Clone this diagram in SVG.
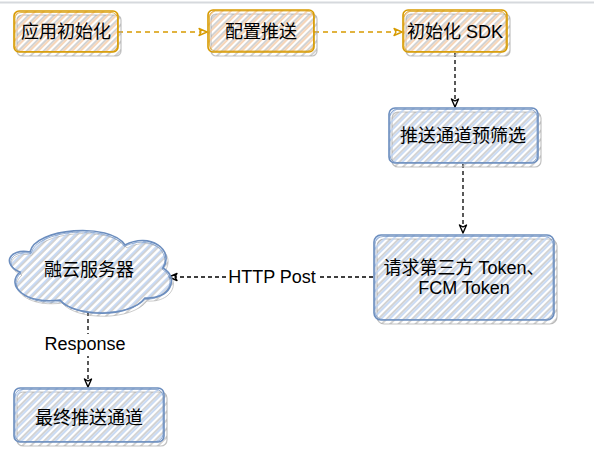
<svg xmlns="http://www.w3.org/2000/svg" width="594" height="462" viewBox="0 0 594 462">
<style>
  .txt{font-family:"Liberation Sans","Noto Sans CJK SC",sans-serif;font-size:18px;fill:#000;text-anchor:middle;}
  .shadow{fill:url(#grayHatch);stroke:#9a9a9a;stroke-width:1.2;stroke-opacity:0.6;}
  .ofill{fill:url(#orangeHatch);stroke:#d79b00;stroke-width:1.6;}
  .bfill{fill:url(#blueHatch);stroke:#6c8ebf;stroke-width:1.6;}
  .osk{fill:none;stroke:#d79b00;stroke-width:1;stroke-opacity:0.7;}
  .bsk{fill:none;stroke:#6c8ebf;stroke-width:1;stroke-opacity:0.7;}
  .edge{fill:none;stroke:#000;stroke-width:1.3;stroke-dasharray:4 3;}
  .oedge{fill:none;stroke:#d79b00;stroke-width:1.3;stroke-dasharray:5 4;}
  .lblbg{fill:#fff;}
</style>
<defs>
  <pattern id="orangeHatch" patternUnits="userSpaceOnUse" width="6" height="6" patternTransform="rotate(-45)">
    <line x1="0" y1="3" x2="6" y2="3" stroke="#f5c8a2" stroke-width="1.5"/>
  </pattern>
  <pattern id="blueHatch" patternUnits="userSpaceOnUse" width="6" height="6" patternTransform="rotate(-45)">
    <line x1="0" y1="3" x2="6" y2="3" stroke="#bcd2f1" stroke-width="1.6"/>
  </pattern>
  <pattern id="grayHatch" patternUnits="userSpaceOnUse" width="6" height="6" patternTransform="rotate(-45)">
    <line x1="0" y1="1" x2="6" y2="1" stroke="#b5b5b5" stroke-width="1.2"/>
  </pattern>
  <marker id="arrO" viewBox="0 0 10 10" refX="9" refY="5" markerUnits="userSpaceOnUse" markerWidth="10" markerHeight="10" orient="auto">
    <path d="M1,1.5 L9,5 L1,8.5 L3,5 Z" fill="#fff" stroke="#d79b00" stroke-width="1.4" stroke-linejoin="round"/>
  </marker>
  <marker id="arrK" viewBox="0 0 10 10" refX="9" refY="5" markerUnits="userSpaceOnUse" markerWidth="10" markerHeight="10" orient="auto">
    <path d="M1,1.5 L9,5 L1,8.5 L3,5 Z" fill="#fff" stroke="#000" stroke-width="1.4" stroke-linejoin="round"/>
  </marker>
</defs>

<rect width="594" height="462" fill="#fff"/>
<line x1="0" y1="2.5" x2="594" y2="2.5" stroke="#d6d9dd" stroke-width="2"/>

<g id="connectors">
  <path class="oedge" d="M118,32 L207,32" marker-end="url(#arrO)"/>
  <path class="oedge" d="M314,32 L402,32" stroke-width="2.2" marker-end="url(#arrO)"/>
  <path class="edge" d="M455,53 L455,107" marker-end="url(#arrK)"/>
  <path class="edge" d="M463,164 L463,233" marker-end="url(#arrK)"/>
  <path class="edge" d="M373,277 L169,277" marker-end="url(#arrK)"/>
  <rect class="lblbg" x="226" y="266" width="92" height="22"/>
  <text class="txt" x="272" y="283">HTTP Post</text>
  <path class="edge" d="M88,312 L88,387" marker-end="url(#arrK)"/>
  <rect class="lblbg" x="44" y="334" width="84" height="22"/>
  <text class="txt" x="85" y="350">Response</text>
</g>

<g id="node-app-init">
  <rect class="shadow" x="17" y="15" width="104" height="41" rx="5"/>
  <rect class="ofill" x="14" y="11" width="104" height="41" rx="5"/>
  <rect class="osk" x="15" y="12.5" width="102.5" height="39" rx="6"/>
  <text class="txt" x="66" y="38">应用初始化</text>
</g>

<g id="node-config-push">
  <rect class="shadow" x="211" y="14" width="106" height="42" rx="5"/>
  <rect class="ofill" x="208" y="10" width="106" height="42" rx="5"/>
  <rect class="osk" x="209.5" y="11" width="104" height="40" rx="6"/>
  <text class="txt" x="261" y="38">配置推送</text>
</g>

<g id="node-init-sdk">
  <rect class="shadow" x="406" y="14" width="104" height="42" rx="5"/>
  <rect class="ofill" x="403" y="10" width="104" height="42" rx="5"/>
  <rect class="osk" x="404" y="11.5" width="102" height="40" rx="6"/>
  <text class="txt" x="455" y="38">初始化 SDK</text>
</g>

<g id="node-prefilter">
  <rect class="shadow" x="392" y="112" width="149" height="55" rx="6"/>
  <rect class="bfill" x="389" y="108" width="149" height="55" rx="6"/>
  <rect class="bsk" x="390" y="109.5" width="147" height="53" rx="7"/>
  <text class="txt" x="463" y="142">推送通道预筛选</text>
</g>

<g id="node-token">
  <rect class="shadow" x="377" y="239" width="180" height="85" rx="7"/>
  <rect class="bfill" x="374" y="235" width="180" height="85" rx="7"/>
  <rect class="bsk" x="375" y="236.5" width="178" height="83" rx="8"/>
  <text class="txt" x="464" y="274">请求第三方 Token、</text>
  <text class="txt" x="464" y="294">FCM Token</text>
</g>

<g id="node-rongcloud">
  <path transform="translate(2,3)" d="M30,252 C35,228 110,222 125,245 C150,232 175,250 163,268 C180,278 170,300 145,298 C130,318 75,318 60,300 C25,305 5,285 20,272 C2,265 8,248 30,252 Z" fill="url(#grayHatch)" stroke="#9a9a9a" stroke-opacity="0.5"/>
  <path d="M30,252 C35,228 110,222 125,245 C150,232 175,250 163,268 C180,278 170,300 145,298 C130,318 75,318 60,300 C25,305 5,285 20,272 C2,265 8,248 30,252 Z" fill="url(#blueHatch)" stroke="#6c8ebf" stroke-width="1.6"/>
  <path d="M31,253.5 C36,229.5 109,223.5 124.5,246.5 C149,234 173,251 162,269 C178,279 169,299 145,299.5 C129,316.5 76,316.5 60.5,301.5 C26,306 6.5,286 21,273 C3.5,266 9.5,249.5 31,253.5 Z" fill="none" stroke="#6c8ebf" stroke-width="1" stroke-opacity="0.7"/>
  <text class="txt" x="89" y="276">融云服务器</text>
</g>

<g id="node-final-channel">
  <rect class="shadow" x="17" y="392" width="150" height="54" rx="6"/>
  <rect class="bfill" x="14" y="388" width="150" height="54" rx="6"/>
  <rect class="bsk" x="15" y="389.5" width="148" height="52" rx="7"/>
  <text class="txt" x="89" y="424">最终推送通道</text>
</g>
</svg>
